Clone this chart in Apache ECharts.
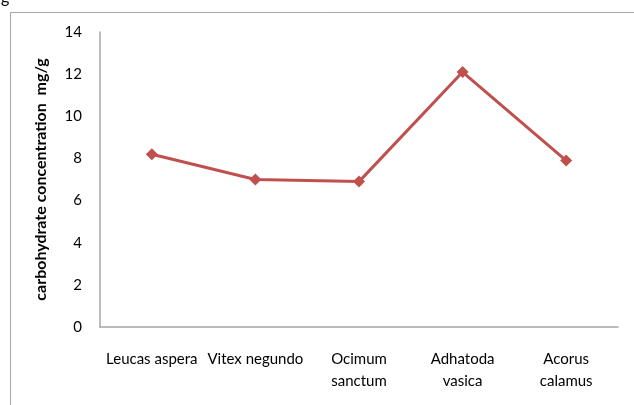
<!DOCTYPE html>
<html>
<head>
<meta charset="utf-8">
<script src="https://cdn.jsdelivr.net/npm/echarts@6/dist/echarts.min.js"></script>
<style>
  html, body { margin: 0; padding: 0; background: #fff; }
  #chart { width: 634px; height: 405px; }
</style>
</head>
<body>
<div id="chart"></div>
<script>
// Carbohydrate content per plant species
const categories = ['Leucas aspera', 'Vitex negundo', 'Ocimum\nsanctum', 'Adhatoda\nvasica', 'Acorus\ncalamus'];
const carbohydrate = [8.2, 7.0, 6.9, 12.1, 7.9];
const yTicks = [0, 2, 4, 6, 8, 10, 12, 14];

const FONT = 'Lato, "Open Sans", sans-serif';
const chart = echarts.init(document.getElementById('chart'));

chart.setOption({
  animation: false,
  backgroundColor: '#fff',
  graphic: [
    {
      type: 'rect',
      shape: { x: 10.5, y: 12.5, width: 640, height: 400 },
      style: { fill: 'none', stroke: '#a6a6a6', lineWidth: 1 },
      silent: true
    },
    {
      type: 'text',
      left: 1, top: -10,
      style: { text: 'g', font: '16px ' + FONT, fill: '#000' }
    }
  ],
  grid: { left: 100, right: 16, top: 32, bottom: 78 },
  xAxis: {
    type: 'category',
    data: categories,
    boundaryGap: true,
    axisLine: { lineStyle: { color: '#a6a6a6', width: 1.5 } },
    axisTick: { show: false },
    axisLabel: {
      interval: 0, color: '#000', fontFamily: FONT, fontSize: 15,
      margin: 21, lineHeight: 22
    }
  },
  yAxis: {
    type: 'value',
    min: yTicks[0],
    max: yTicks[yTicks.length - 1],
    interval: 2,
    name: 'carbohydrate concentration  mg/g',
    nameLocation: 'middle',
    nameGap: 51,
    nameTextStyle: { color: '#000', fontFamily: FONT, fontSize: 16, fontWeight: 'bold' },
    axisLine: { show: true, lineStyle: { color: '#a6a6a6', width: 1.5 } },
    axisTick: { show: false },
    splitLine: { show: false },
    axisLabel: { color: '#000', fontFamily: FONT, fontSize: 15, margin: 18 }
  },
  series: [{
    type: 'line',
    data: carbohydrate,
    symbol: 'diamond',
    symbolSize: 12,
    lineStyle: { color: '#c0504d', width: 3 },
    itemStyle: { color: '#c0504d' }
  }]
});
</script>
</body>
</html>
